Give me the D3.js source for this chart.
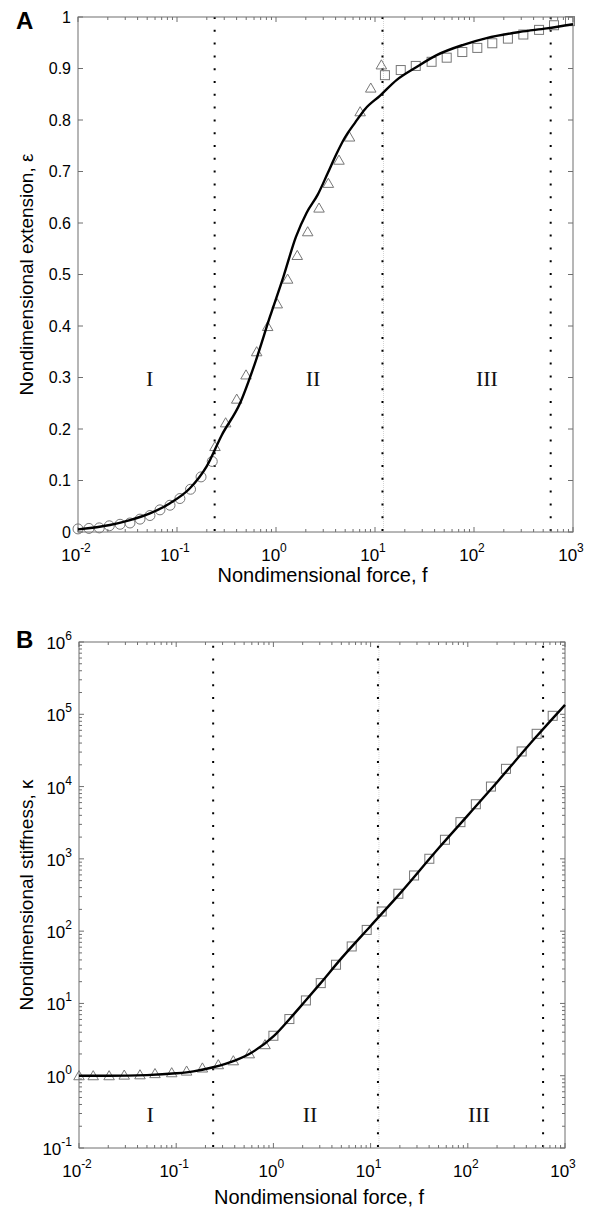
<!DOCTYPE html>
<html>
<head>
<meta charset="utf-8">
<script src="https://cdn.jsdelivr.net/npm/d3@7"></script>
<style>
  html, body { margin: 0; padding: 0; background: #fff; }
  svg { display: block; font-family: "Liberation Sans", Arial, sans-serif; }
</style>
</head>
<body>
<svg id="fig" width="594" height="1210"></svg>
<script>
// ---- Panel A: nondimensional extension vs force ----
const circF = [0.010, 0.0129, 0.0164, 0.0207, 0.0266, 0.0335, 0.0423, 0.0533, 0.0673, 0.085, 0.107, 0.137, 0.175, 0.227];
const circE = [0.006, 0.007, 0.008, 0.012, 0.015, 0.0175, 0.025, 0.032, 0.043, 0.052, 0.065, 0.083, 0.107, 0.137];

const triF = [0.242, 0.310, 0.401, 0.498, 0.638, 0.824, 1.03, 1.31, 1.64, 2.09, 2.72, 3.38, 4.33, 5.53, 7.08, 9.06, 11.6];
const triE = [0.166, 0.212, 0.258, 0.305, 0.350, 0.399, 0.443, 0.491, 0.537, 0.583, 0.629, 0.677, 0.722, 0.767, 0.816, 0.862, 0.907];

const sqF = [12.6, 18.2, 25.8, 37.3, 53, 76.2, 108, 153, 220, 315, 454, 643, 933];
const sqE = [0.887, 0.897, 0.905, 0.913, 0.921, 0.932, 0.940, 0.949, 0.958, 0.966, 0.975, 0.984, 0.992];

const fitF = [0.01, 0.021, 0.0335, 0.0533, 0.085, 0.135, 0.2, 0.283, 0.433, 0.614, 0.869, 1.19, 1.59, 2.04, 2.64, 3.3, 4.1, 5.0, 6.3, 8.0, 11.2, 16.6, 26.3, 42, 78, 134, 292, 542, 1000];
const fitE = [0.005, 0.0136, 0.023, 0.036, 0.056, 0.085, 0.128, 0.188, 0.25, 0.328, 0.418, 0.496, 0.573, 0.62, 0.655, 0.695, 0.735, 0.767, 0.795, 0.822, 0.847, 0.878, 0.903, 0.926, 0.946, 0.959, 0.971, 0.978, 0.986];

// ---- Panel B: nondimensional stiffness vs force ----
const triBF = [0.01, 0.0140, 0.0204, 0.0292, 0.0424, 0.0605, 0.0899, 0.128, 0.186, 0.271, 0.387, 0.565, 0.82];
const triBK = [1.0, 1.0, 1.0, 1.02, 1.03, 1.07, 1.10, 1.16, 1.28, 1.42, 1.61, 2.01, 2.69];

const sqBF = [1.0, 1.46, 2.16, 3.07, 4.41, 6.39, 9.12, 13.0, 19.3, 28.0, 40.2, 58.2, 84, 121, 173, 247, 358, 511, 747];
const sqBK = [3.57, 6.08, 11.0, 19.1, 34.3, 61.4, 104, 187, 329, 589, 1003, 1837, 3220, 5690, 10000, 17600, 30600, 53700, 95300];

const fitBF = [0.01, 0.02, 0.05, 0.1, 0.15, 0.24, 0.4, 0.6, 1.0, 1.5, 2, 3, 5, 10, 20, 50, 100, 200, 500, 1000];
const fitBK = [1.0, 1.0, 1.02, 1.08, 1.15, 1.31, 1.62, 2.1, 3.5, 6.3, 9.8, 18.5, 42, 118, 330, 1400, 4000, 11500, 48000, 135000];

// ---- Regime boundaries and labels ----
const boundaries = [0.24, 11.9, 595];
const regimeNames = ["I", "II", "III"];
const regimeFA = [0.053, 2.37, 135];
const regimeEA = 0.298;
const regimeFB = [0.054, 2.38, 130];
const regimeKB = 0.29;

// ---- Tick values ----
const forceExps = [-2, -1, 0, 1, 2, 3];
const extTicks = [0, 0.1, 0.2, 0.3, 0.4, 0.5, 0.6, 0.7, 0.8, 0.9, 1];
const extTickLabels = ["0", "0.1", "0.2", "0.3", "0.4", "0.5", "0.6", "0.7", "0.8", "0.9", "1"];
const stiffExps = [-1, 0, 1, 2, 3, 4, 5, 6];

const svg = d3.select("#fig");
const axisColor = "#6f6f6f";
const markColor = "#777";

function minorLogTicks(lo, hi) {
  const out = [];
  for (let e = lo; e < hi; e++) for (let m = 2; m <= 9; m++) out.push(m * Math.pow(10, e));
  return out;
}

function powLabel(sel, base, exp, anchor) {
  sel.attr("text-anchor", anchor);
  sel.append("tspan").text(base);
  sel.append("tspan").attr("dy", -9).attr("font-size", 12).text(exp);
}

function drawPanel(cfg) {
  const g = svg.append("g").attr("transform", `translate(${cfg.left},${cfg.top})`);
  const W = cfg.width, H = cfg.height;
  const x = d3.scaleLog().domain([1e-2, 1e3]).range([0, W]);
  const y = cfg.yScale.range([H, 0]);

  // regime boundaries
  boundaries.forEach((b, i) => {
    if (i === 1) {
      g.append("line").attr("x1", x(b) + 1).attr("x2", x(b) + 1).attr("y1", 0).attr("y2", H)
        .attr("stroke", "#d4d4d4").attr("stroke-width", 1).attr("stroke-dasharray", "1,1");
    }
    g.append("line").attr("x1", x(b)).attr("x2", x(b)).attr("y1", H - 1).attr("y2", 0)
      .attr("stroke", "#000").attr("stroke-width", 2).attr("stroke-dasharray", "2,10.8");
  });

  // regime labels
  regimeNames.forEach((n, i) => {
    g.append("text").attr("x", x(cfg.regF[i])).attr("y", y(cfg.regY))
      .attr("text-anchor", "middle").attr("dominant-baseline", "central")
      .attr("font-family", "'Liberation Serif', 'Times New Roman', serif")
      .attr("font-size", 22).attr("fill", "#111").text(n);
  });

  // box
  g.append("rect").attr("x", 0).attr("y", 0).attr("width", W).attr("height", H)
    .attr("fill", "none").attr("stroke", axisColor).attr("stroke-width", 1);

  // x ticks (bottom and top, inward)
  const majorX = forceExps.map(e => Math.pow(10, e));
  const minorX = minorLogTicks(-2, 3);
  [[H, -1], [0, 1]].forEach(([yy, dir]) => {
    majorX.forEach(v => g.append("line").attr("x1", x(v)).attr("x2", x(v)).attr("y1", yy).attr("y2", yy + dir * 5).attr("stroke", axisColor));
    minorX.forEach(v => g.append("line").attr("x1", x(v)).attr("x2", x(v)).attr("y1", yy).attr("y2", yy + dir * 3).attr("stroke", axisColor));
  });
  forceExps.forEach(e => {
    const t = g.append("text").attr("x", x(Math.pow(10, e)) - 2).attr("y", H + 29).attr("font-size", 17).attr("fill", "#000");
    powLabel(t, "10", String(e), "middle");
  });

  // y ticks
  cfg.yMajor.forEach(v => {
    g.append("line").attr("x1", 0).attr("x2", 5).attr("y1", y(v)).attr("y2", y(v)).attr("stroke", axisColor);
    g.append("line").attr("x1", W).attr("x2", W - 5).attr("y1", y(v)).attr("y2", y(v)).attr("stroke", axisColor);
  });
  (cfg.yMinor || []).forEach(v => {
    g.append("line").attr("x1", 0).attr("x2", 3).attr("y1", y(v)).attr("y2", y(v)).attr("stroke", axisColor);
    g.append("line").attr("x1", W).attr("x2", W - 3).attr("y1", y(v)).attr("y2", y(v)).attr("stroke", axisColor);
  });
  cfg.yLabel(g, y);

  // markers
  const mk = g.append("g").attr("fill", "none").attr("stroke", markColor).attr("stroke-width", 1);
  cfg.circles.forEach(([fx, fy]) => {
    fx.forEach((v, i) => mk.append("circle").attr("cx", x(v)).attr("cy", y(fy[i])).attr("r", 5));
  });
  const tri = d3.symbol().type(d3.symbolTriangle).size(48);
  cfg.triangles.forEach(([fx, fy]) => {
    fx.forEach((v, i) => mk.append("path").attr("d", tri()).attr("transform", `translate(${x(v)},${y(fy[i]) + 1})`));
  });
  cfg.squares.forEach(([fx, fy]) => {
    fx.forEach((v, i) => mk.append("rect").attr("x", x(v) - 4.5).attr("y", y(fy[i]) - 4.5).attr("width", 9).attr("height", 9));
  });

  // fitted curve
  const pts = cfg.fit[0].map((v, i) => [v, cfg.fit[1][i]]);
  g.append("path").datum(pts)
    .attr("d", d3.line().x(d => x(d[0])).y(d => y(d[1])).curve(d3.curveMonotoneX))
    .attr("fill", "none").attr("stroke", "#000").attr("stroke-width", 2.4);

  // axis titles
  svg.append("text").attr("x", cfg.left + W / 2 - 3).attr("y", cfg.top + H + cfg.xTitleOffset)
    .attr("text-anchor", "middle").attr("font-size", 20).attr("fill", "#000").text("Nondimensional force, f");
  svg.append("text").attr("transform", `translate(33,${cfg.top + H / 2}) rotate(-90)`)
    .attr("text-anchor", "middle").attr("font-size", 19).attr("fill", "#000").text(cfg.yTitle);
  svg.append("text").attr("x", 16).attr("y", cfg.top + cfg.letterDy)
    .attr("font-size", 24).attr("font-weight", "bold").attr("fill", "#000").text(cfg.letter);
}

drawPanel({
  left: 78, top: 17, width: 495, height: 515,
  yScale: d3.scaleLinear().domain([0, 1]),
  yMajor: extTicks,
  yLabel: (g, y) => extTicks.forEach((v, i) => g.append("text").attr("x", -7).attr("y", y(v) + 5.5)
    .attr("text-anchor", "end").attr("font-size", 16).attr("fill", "#000").text(extTickLabels[i])),
  circles: [[circF, circE]],
  triangles: [[triF, triE]],
  squares: [[sqF, sqE]],
  fit: [fitF, fitE],
  regF: regimeFA, regY: regimeEA,
  yTitle: "Nondimensional extension, \u03b5",
  xTitleOffset: 50,
  letter: "A", letterDy: 12
});

drawPanel({
  left: 79, top: 642, width: 486, height: 506,
  yScale: d3.scaleLog().domain([1e-1, 1e6]),
  yMajor: stiffExps.map(e => Math.pow(10, e)),
  yMinor: minorLogTicks(-1, 6),
  yLabel: (g, y) => stiffExps.forEach(e => {
    const t = g.append("text").attr("x", -7).attr("y", y(Math.pow(10, e)) + 7).attr("font-size", 17).attr("fill", "#000");
    powLabel(t, "10", String(e), "end");
  }),
  circles: [],
  triangles: [[triBF, triBK]],
  squares: [[sqBF, sqBK]],
  fit: [fitBF, fitBK],
  regF: regimeFB, regY: regimeKB,
  yTitle: "Nondimensional stiffness, \u03ba",
  xTitleOffset: 56,
  letter: "B", letterDy: 6
});
</script>
</body>
</html>
